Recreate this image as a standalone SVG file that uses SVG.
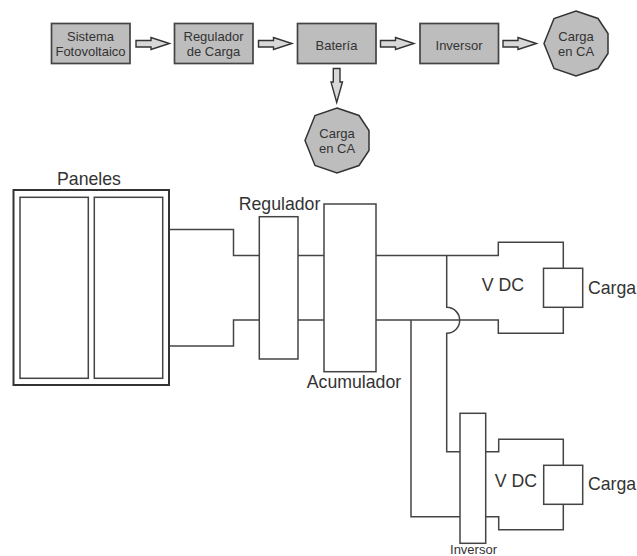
<svg xmlns="http://www.w3.org/2000/svg" width="637" height="556" viewBox="0 0 637 556">
<style>
text{font-family:"Liberation Sans",Arial,sans-serif;fill:#333;text-anchor:middle}
.s{font-size:13px}
.l{font-size:17.7px}
.b{fill:#bdbdbd;stroke:#444;stroke-width:1.7}
.p{fill:#bdbdbd;stroke:#333;stroke-width:1.5;stroke-linejoin:miter}
.a{fill:#d8d8d8;stroke:#333;stroke-width:1.4}
.w{fill:#fff;stroke:#444;stroke-width:1.5}
.c{fill:none;stroke:#444;stroke-width:1.5}
</style>
<defs>
<polygon id="oct" points="0,-32.5 22,-25 32,-10 32,10 22,25 0,32.5 -22,25 -32,0 -22,-25"/>
<polygon id="arr" points="136,40.5 151,40.5 151,37.5 169.5,43.5 151,49.5 151,47 136,47"/>
</defs>
<g id="flow-arrows">
<use href="#arr" class="a"/>
<use href="#arr" class="a" x="122.500"/>
<use href="#arr" class="a" x="244.500"/>
<use href="#arr" class="a" x="367"/>
<polygon class="a" points="333.300,68.500 340,68.500 340,82 342.500,82 336.700,102.500 331,82 333.300,82"/>
</g>
<g id="n-sistema"><rect class="b" x="51.500" y="23.500" width="78.500" height="40"/><text class="s" x="90.500" y="41">Sistema</text><text class="s" x="90.500" y="56">Fotovoltaico</text></g>
<g id="n-regulador-carga"><rect class="b" x="174.500" y="23.500" width="78.500" height="40"/><text class="s" x="213.500" y="41">Regulador</text><text class="s" x="213.500" y="56">de Carga</text></g>
<g id="n-bateria"><rect class="b" x="297.500" y="23.500" width="78.500" height="40"/><text class="s" x="336.500" y="50">Batería</text></g>
<g id="n-inversor-top"><rect class="b" x="420" y="23.500" width="78.500" height="40"/><text class="s" x="459" y="50">Inversor</text></g>
<g id="n-carga-ca-1"><use href="#oct" class="p" x="576" y="43.500"/><text class="s" x="576" y="41">Carga</text><text class="s" x="576" y="56">en CA</text></g>
<g id="n-carga-ca-2"><use href="#oct" class="p" x="337" y="140.500"/><text class="s" x="337" y="138">Carga</text><text class="s" x="337" y="153">en CA</text></g>
<g id="connectors">
<path class="c" d="M169 229.500H233.500V255.500H259.500M169 346H233.500V320H259.500M298 255.500H324M298 320H324"/>
<path class="c" d="M376 255.500H498.300V242.300H563.300V268.300M376 320H498.300V333.300H563.300V307.300"/>
<path class="c" d="M446.700 255.500V307.300A13 13 0 0 1 446.700 333.300V451.700H460M411 320V516.700H460"/>
<path class="c" d="M485.700 451.700H498.700V439.300H563.300V465.300M485.700 516.700H498.700V529.700H563.300V504.300"/>
</g>
<g id="n-paneles">
<rect x="13.500" y="190" width="155.500" height="195" fill="#fff" stroke="#333" stroke-width="2"/>
<rect class="w" x="20" y="197.300" width="68.300" height="181"/>
<rect class="w" x="94.300" y="197.300" width="68.400" height="181"/>
<text class="l" x="89" y="185">Paneles</text>
</g>
<g id="n-regulador"><rect class="w" x="259.300" y="216.700" width="38.700" height="142.300"/><text class="l" x="279.500" y="210">Regulador</text></g>
<g id="n-acumulador"><rect class="w" x="324" y="204" width="52" height="167.700"/><text class="l" x="354" y="388">Acumulador</text></g>
<g id="n-carga-1"><rect class="w" x="543.500" y="268.300" width="39.200" height="39"/><text class="l" x="612" y="294">Carga</text></g>
<text class="l" x="503" y="291">V DC</text>
<g id="n-inversor"><rect class="w" x="460" y="413.300" width="25.700" height="130"/><text class="s" x="473.500" y="554">Inversor</text></g>
<g id="n-carga-2"><rect class="w" x="543.700" y="465.300" width="39" height="39"/><text class="l" x="612" y="490">Carga</text></g>
<text class="l" x="516" y="487">V DC</text>
</svg>
